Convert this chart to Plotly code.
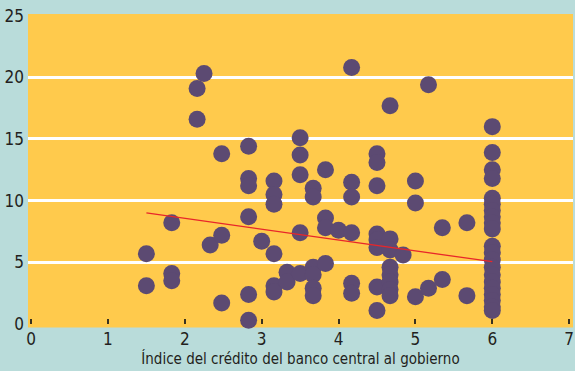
import plotly.graph_objects as go

# Data
x_vals = (
    [1.5, 1.5]
    + [1.83, 1.83, 1.83]
    + [2.16, 2.16, 2.25, 2.33]
    + [2.48, 2.48, 2.48]
    + [2.83] * 6
    + [3.0]
    + [3.16] * 6
    + [3.33, 3.33]
    + [3.5] * 5
    + [3.67] * 6
    + [3.83] * 4
    + [4.0]
    + [4.17] * 6
    + [4.5] * 8
    + [4.67] * 8
    + [4.84]
    + [5.0] * 3
    + [5.17, 5.17]
    + [5.35, 5.35]
    + [5.67, 5.67]
    + [6.0] * 21
)
y_vals = (
    [5.7, 3.1]
    + [8.2, 4.1, 3.5]
    + [19.1, 16.6, 20.3, 6.4]
    + [13.8, 7.2, 1.7]
    + [14.4, 11.8, 11.2, 8.7, 2.4, 0.3]
    + [6.7]
    + [11.6, 10.5, 9.7, 5.7, 3.1, 2.6]
    + [4.2, 3.4]
    + [15.1, 13.7, 12.1, 7.4, 4.1]
    + [11.0, 10.3, 4.6, 4.0, 2.9, 2.3]
    + [12.5, 8.6, 7.8, 4.9]
    + [7.6]
    + [20.8, 11.5, 10.3, 7.4, 3.3, 2.5]
    + [13.8, 13.1, 11.2, 7.3, 6.8, 6.2, 3.0, 1.1]
    + [17.7, 6.9, 6.0, 4.6, 4.0, 3.4, 2.8, 2.3]
    + [5.6]
    + [11.6, 9.8, 2.2]
    + [19.4, 2.9]
    + [7.8, 3.6]
    + [8.2, 2.3]
    + [16.0, 13.9, 12.5, 11.8, 10.2, 9.7, 9.2, 8.7, 8.2, 7.7,
       6.3, 5.8, 5.2, 4.6, 4.0, 3.4, 2.9, 2.4, 1.9, 1.4, 1.1]
)
trend_x = [1.5, 6.0]
trend_y = [9.0, 5.05]

x_ticks = [0, 1, 2, 3, 4, 5, 6, 7]
y_ticks = [0, 5, 10, 15, 20, 25]
y_grid = [5, 10, 15, 20]
x_title = "Índice del crédito del banco central al gobierno"

ORANGE = "#FFCA4C"
TEAL = "#B9DCDA"
PURPLE = "#5C4A72"
FONT = "Liberation Sans Narrow, DejaVu Sans Condensed, Arial Narrow, sans-serif"

fig = go.Figure()
fig.add_trace(go.Scatter(
    x=x_vals, y=y_vals, mode="markers",
    marker=dict(size=17, color=PURPLE, line=dict(width=0)),
    cliponaxis=False, showlegend=False,
))
fig.add_trace(go.Scatter(
    x=trend_x, y=trend_y, mode="lines",
    line=dict(color="#E8262A", width=1.3),
    showlegend=False,
))

# orange strip just below y=0 (plot area extends slightly below the axis)
fig.add_shape(type="rect", xref="paper", yref="paper",
              x0=0, x1=1, y0=-0.011, y1=0, fillcolor=ORANGE,
              line=dict(width=0), layer="below")

fig.update_layout(
    width=575, height=371,
    margin=dict(l=28, r=2, t=14, b=47),
    paper_bgcolor=TEAL, plot_bgcolor=ORANGE,
    font=dict(family=FONT, size=17, color="#231F20"),
    xaxis=dict(
        range=[-0.04, 7.05], tickvals=x_ticks, showgrid=False, zeroline=False,
        ticks="inside", ticklen=5, tickwidth=2, tickcolor="#3A3220",
        showline=False, ticklabelstandoff=3,
        title=dict(text=x_title, font=dict(size=15), standoff=2),
    ),
    yaxis=dict(
        range=[0, 25.13], tickvals=y_ticks, showgrid=False,
        zeroline=False, showline=False,
        ticks="", ticklabelstandoff=3,
        minor=dict(tickvals=y_grid, showgrid=True, gridcolor="white",
                   gridwidth=2.5, ticks=""),
    ),
)

fig.write_html("out.html")
